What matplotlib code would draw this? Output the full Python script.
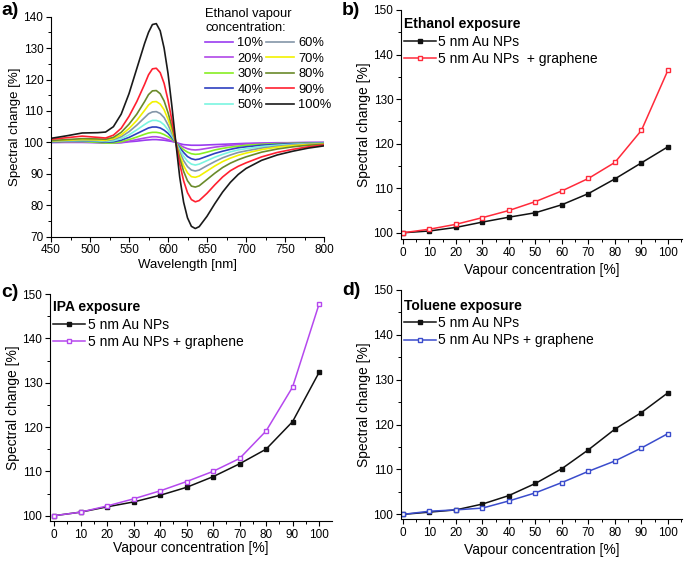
import matplotlib
matplotlib.use("Agg")
import matplotlib.pyplot as plt
from matplotlib.ticker import MultipleLocator

plt.rcParams["font.family"] = ["Liberation Sans", "DejaVu Sans"]

# ---- panel a: spectra ----
wavelength = [450, 470, 490, 510, 520, 530, 540, 550, 560, 570, 575, 580, 585, 590,
              595, 600, 605, 610, 615, 620, 625, 630, 635, 640, 650, 660, 670, 680,
              690, 700, 720, 740, 760, 780, 800]

spec_10 = [100.0, 100.0, 100.0, 99.9, 99.8, 99.8, 99.9, 100.2, 100.4, 100.7, 100.8, 100.9,
           100.9, 100.8, 100.7, 100.5, 100.3, 100.0, 99.6, 99.3, 99.2, 99.1, 99.1, 99.1,
           99.2, 99.3, 99.4, 99.5, 99.6, 99.7, 99.8, 99.9, 99.9, 100.0, 100.0]
spec_20 = [100.0, 100.1, 100.2, 100.0, 99.8, 99.8, 100.0, 100.4, 100.9, 101.4, 101.6, 101.8,
           101.8, 101.6, 101.3, 100.9, 100.5, 100.0, 99.2, 98.5, 98.0, 97.7, 97.6, 97.7,
           98.1, 98.5, 98.8, 99.1, 99.3, 99.5, 99.7, 99.8, 99.9, 99.9, 100.0]
spec_30 = [100.2, 100.3, 100.3, 100.0, 99.8, 99.8, 100.2, 100.9, 101.7, 102.6, 103.0, 103.2,
           103.2, 103.0, 102.5, 101.8, 101.0, 100.0, 98.8, 97.7, 96.9, 96.4, 96.2, 96.3,
           96.9, 97.6, 98.1, 98.5, 98.8, 99.1, 99.4, 99.6, 99.7, 99.8, 99.9]
spec_40 = [100.2, 100.4, 100.5, 100.3, 100.1, 100.2, 100.7, 101.6, 102.8, 104.0, 104.6, 104.9,
           104.9, 104.6, 103.9, 102.9, 101.5, 100.0, 98.3, 96.8, 95.5, 94.8, 94.5, 94.7,
           95.6, 96.5, 97.2, 97.8, 98.3, 98.6, 99.1, 99.4, 99.6, 99.7, 99.8]
spec_50 = [100.3, 100.5, 100.6, 100.5, 100.3, 100.5, 101.2, 102.4, 104.0, 105.7, 106.5, 107.0,
           107.0, 106.6, 105.6, 104.0, 102.1, 100.0, 97.7, 95.6, 94.0, 93.1, 92.8, 93.1,
           94.2, 95.3, 96.2, 97.0, 97.6, 98.0, 98.7, 99.1, 99.4, 99.6, 99.7]
spec_60 = [100.4, 100.6, 100.8, 100.7, 100.5, 100.9, 101.8, 103.4, 105.5, 107.9, 109.1, 109.7,
           109.8, 109.2, 107.9, 105.6, 102.9, 100.0, 96.9, 94.2, 92.3, 91.2, 90.9, 91.2,
           92.6, 93.9, 95.1, 96.0, 96.8, 97.3, 98.2, 98.8, 99.2, 99.5, 99.6]
spec_70 = [100.5, 100.7, 100.9, 100.8, 100.7, 101.2, 102.4, 104.4, 107.0, 110.2, 111.9, 112.9,
           113.0, 112.2, 110.4, 107.4, 103.8, 100.0, 96.0, 92.6, 90.3, 89.1, 88.9, 89.3,
           90.9, 92.5, 93.9, 95.0, 95.9, 96.6, 97.7, 98.5, 99.0, 99.3, 99.5]
spec_80 = [100.6, 100.9, 101.2, 101.1, 101.0, 101.6, 103.2, 105.8, 109.0, 113.0, 115.2, 116.4,
           116.5, 115.5, 113.2, 109.5, 105.0, 100.0, 95.0, 90.8, 87.8, 86.1, 85.8, 86.2,
           88.2, 90.2, 92.0, 93.4, 94.5, 95.4, 96.9, 97.9, 98.6, 99.1, 99.4]
spec_90 = [101.0, 101.5, 102.0, 101.6, 101.4, 102.3, 104.5, 108.3, 113.0, 118.5, 121.5, 123.4,
           123.6, 122.2, 118.8, 113.5, 107.0, 100.0, 93.2, 87.8, 84.0, 81.8, 81.1, 81.5,
           83.8, 86.5, 89.0, 91.0, 92.4, 93.5, 95.4, 96.8, 97.8, 98.6, 99.2]
spec_100 = [101.3, 102.1, 103.0, 103.1, 103.3, 105.0, 109.0, 115.5, 123.5, 131.5, 135.0, 137.5,
            137.8, 135.5, 130.0, 122.0, 111.5, 100.0, 89.0, 81.0, 76.0, 73.3, 72.6, 73.2,
            76.5, 80.5, 84.2, 87.3, 89.8, 91.7, 94.3, 96.0, 97.2, 98.2, 98.9]

spectra = [spec_10, spec_20, spec_30, spec_40, spec_50,
           spec_60, spec_70, spec_80, spec_90, spec_100]
spec_labels = ["10%", "20%", "30%", "40%", "50%", "60%", "70%", "80%", "90%", "100%"]
spec_colors = ["#9a3cf0", "#b048e8", "#88ee22", "#2d3fc0", "#7af5e0",
               "#8496a8", "#f2f200", "#6a8a2a", "#ff2030", "#1a1a1a"]

# ---- panels b-d: response vs vapour concentration ----
conc = [0, 10, 20, 30, 40, 50, 60, 70, 80, 90, 100]

eth_au = [100.0, 100.4, 101.2, 102.4, 103.5, 104.5, 106.3, 108.8, 112.1, 115.7, 119.3]
eth_gr = [100.0, 100.8, 101.9, 103.4, 105.0, 107.0, 109.4, 112.2, 115.8, 123.0, 136.5]

ipa_au = [100.0, 100.8, 102.0, 103.1, 104.6, 106.4, 108.8, 111.7, 115.0, 121.2, 132.3]
ipa_gr = [100.0, 100.8, 102.2, 103.8, 105.6, 107.7, 110.0, 112.9, 119.1, 129.0, 147.7]

tol_au = [100.0, 100.5, 101.0, 102.3, 104.2, 106.9, 110.2, 114.4, 119.0, 122.7, 127.1]
tol_gr = [100.0, 100.7, 101.0, 101.4, 103.0, 104.8, 107.1, 109.6, 111.9, 114.8, 118.0]

W, H = 685, 563
fig = plt.figure(figsize=(W / 100, H / 100), dpi=100)


def px_axes(x0, y0, x1, y1):
    # axes from pixel box (left, top, right, bottom)
    return fig.add_axes([x0 / W, 1 - y1 / H, (x1 - x0) / W, (y1 - y0) / H])


def style(ax, xmaj, xmin, ymaj, ymin, lab_size):
    for s in ["top", "right"]:
        ax.spines[s].set_visible(False)
    ax.xaxis.set_major_locator(MultipleLocator(xmaj))
    ax.xaxis.set_minor_locator(MultipleLocator(xmin))
    ax.yaxis.set_major_locator(MultipleLocator(ymaj))
    ax.yaxis.set_minor_locator(MultipleLocator(ymin))
    ax.tick_params(which="major", direction="out", length=3.5, width=0.8,
                   labelsize=8.5, pad=2)
    ax.tick_params(which="minor", direction="out", length=2, width=0.7)
    ax.set_ylabel("Spectral change [%]", fontsize=lab_size, labelpad=2)


# panel a
ax_a = px_axes(51, 16.7, 324, 236.7)
for y, lab, col in zip(spectra, spec_labels, spec_colors):
    ax_a.plot(wavelength, y, color=col, lw=1.2, label=lab)
ax_a.set_xlim(450, 800)
ax_a.set_ylim(70, 140)
style(ax_a, 50, 25, 10, 5, 9.5)
ax_a.set_xlabel("Wavelength [nm]", fontsize=9.5, labelpad=2)
leg = ax_a.legend(ncol=2, frameon=False, fontsize=9.3,
                  title="Ethanol vapour\nconcentration:", title_fontsize=9.3,
                  alignment="left", loc="upper left",
                  bbox_to_anchor=(196 / W, 1 + 1 / H), bbox_transform=fig.transFigure,
                  handlelength=2.15, handletextpad=0.35, columnspacing=0.2,
                  labelspacing=0.27, borderpad=0.2)


def response_panel(box, au, gr, gr_color, title, gr_label, ylow, leg_top, xpad):
    ax = px_axes(*box)
    ax.plot(conc, au, color="#111111", lw=1.1, marker="s", ms=3.5,
            markerfacecolor="#111111", markeredgecolor="#111111",
            label="5 nm Au NPs")
    ax.plot(conc, gr, color=gr_color, lw=1.1, marker="s", ms=3.5,
            markerfacecolor="white", markeredgecolor=gr_color, markeredgewidth=1,
            label=gr_label)
    ax.set_ylim(ylow, 150)
    style(ax, 10, 5, 10, 5, 10)
    ax.set_xlabel("Vapour concentration [%]", fontsize=10, labelpad=xpad)
    ax.legend(frameon=False, fontsize=10, title=title,
              title_fontproperties={"weight": "bold", "size": 10},
              alignment="left", loc="upper left", bbox_to_anchor=(0.0, leg_top),
              handlelength=2.3, handletextpad=0.2, labelspacing=0.25,
              borderpad=0.2, borderaxespad=0.0)
    return ax


ax_b = response_panel((401, 10, 682, 239), eth_au, eth_gr, "#ff2a3a",
                      "Ethanol exposure", "5 nm Au NPs  + graphene", 98.6, 0.98, 3)
ax_b.set_xlim(-0.75, 105.3)
ax_c = response_panel((50, 294, 332, 521), ipa_au, ipa_gr, "#b548ee",
                      "IPA exposure", "5 nm Au NPs + graphene", 98.8, 0.985, 0)
ax_c.set_xlim(-1.6, 104.9)
ax_d = response_panel((401, 290, 682, 519.3), tol_au, tol_gr, "#3a4ccc",
                      "Toluene exposure", "5 nm Au NPs + graphene", 98.9, 0.975, 3)
ax_d.set_xlim(-0.75, 105.3)

for lab, (x, y) in zip(["a)", "b)", "c)", "d)"],
                       [(1, 2), (342, 2), (1, 284), (342, 282)]):
    fig.text(x / W, 1 - y / H, lab, fontsize=14, fontweight="bold",
             ha="left", va="top")

fig.savefig("out.png", dpi=100)
